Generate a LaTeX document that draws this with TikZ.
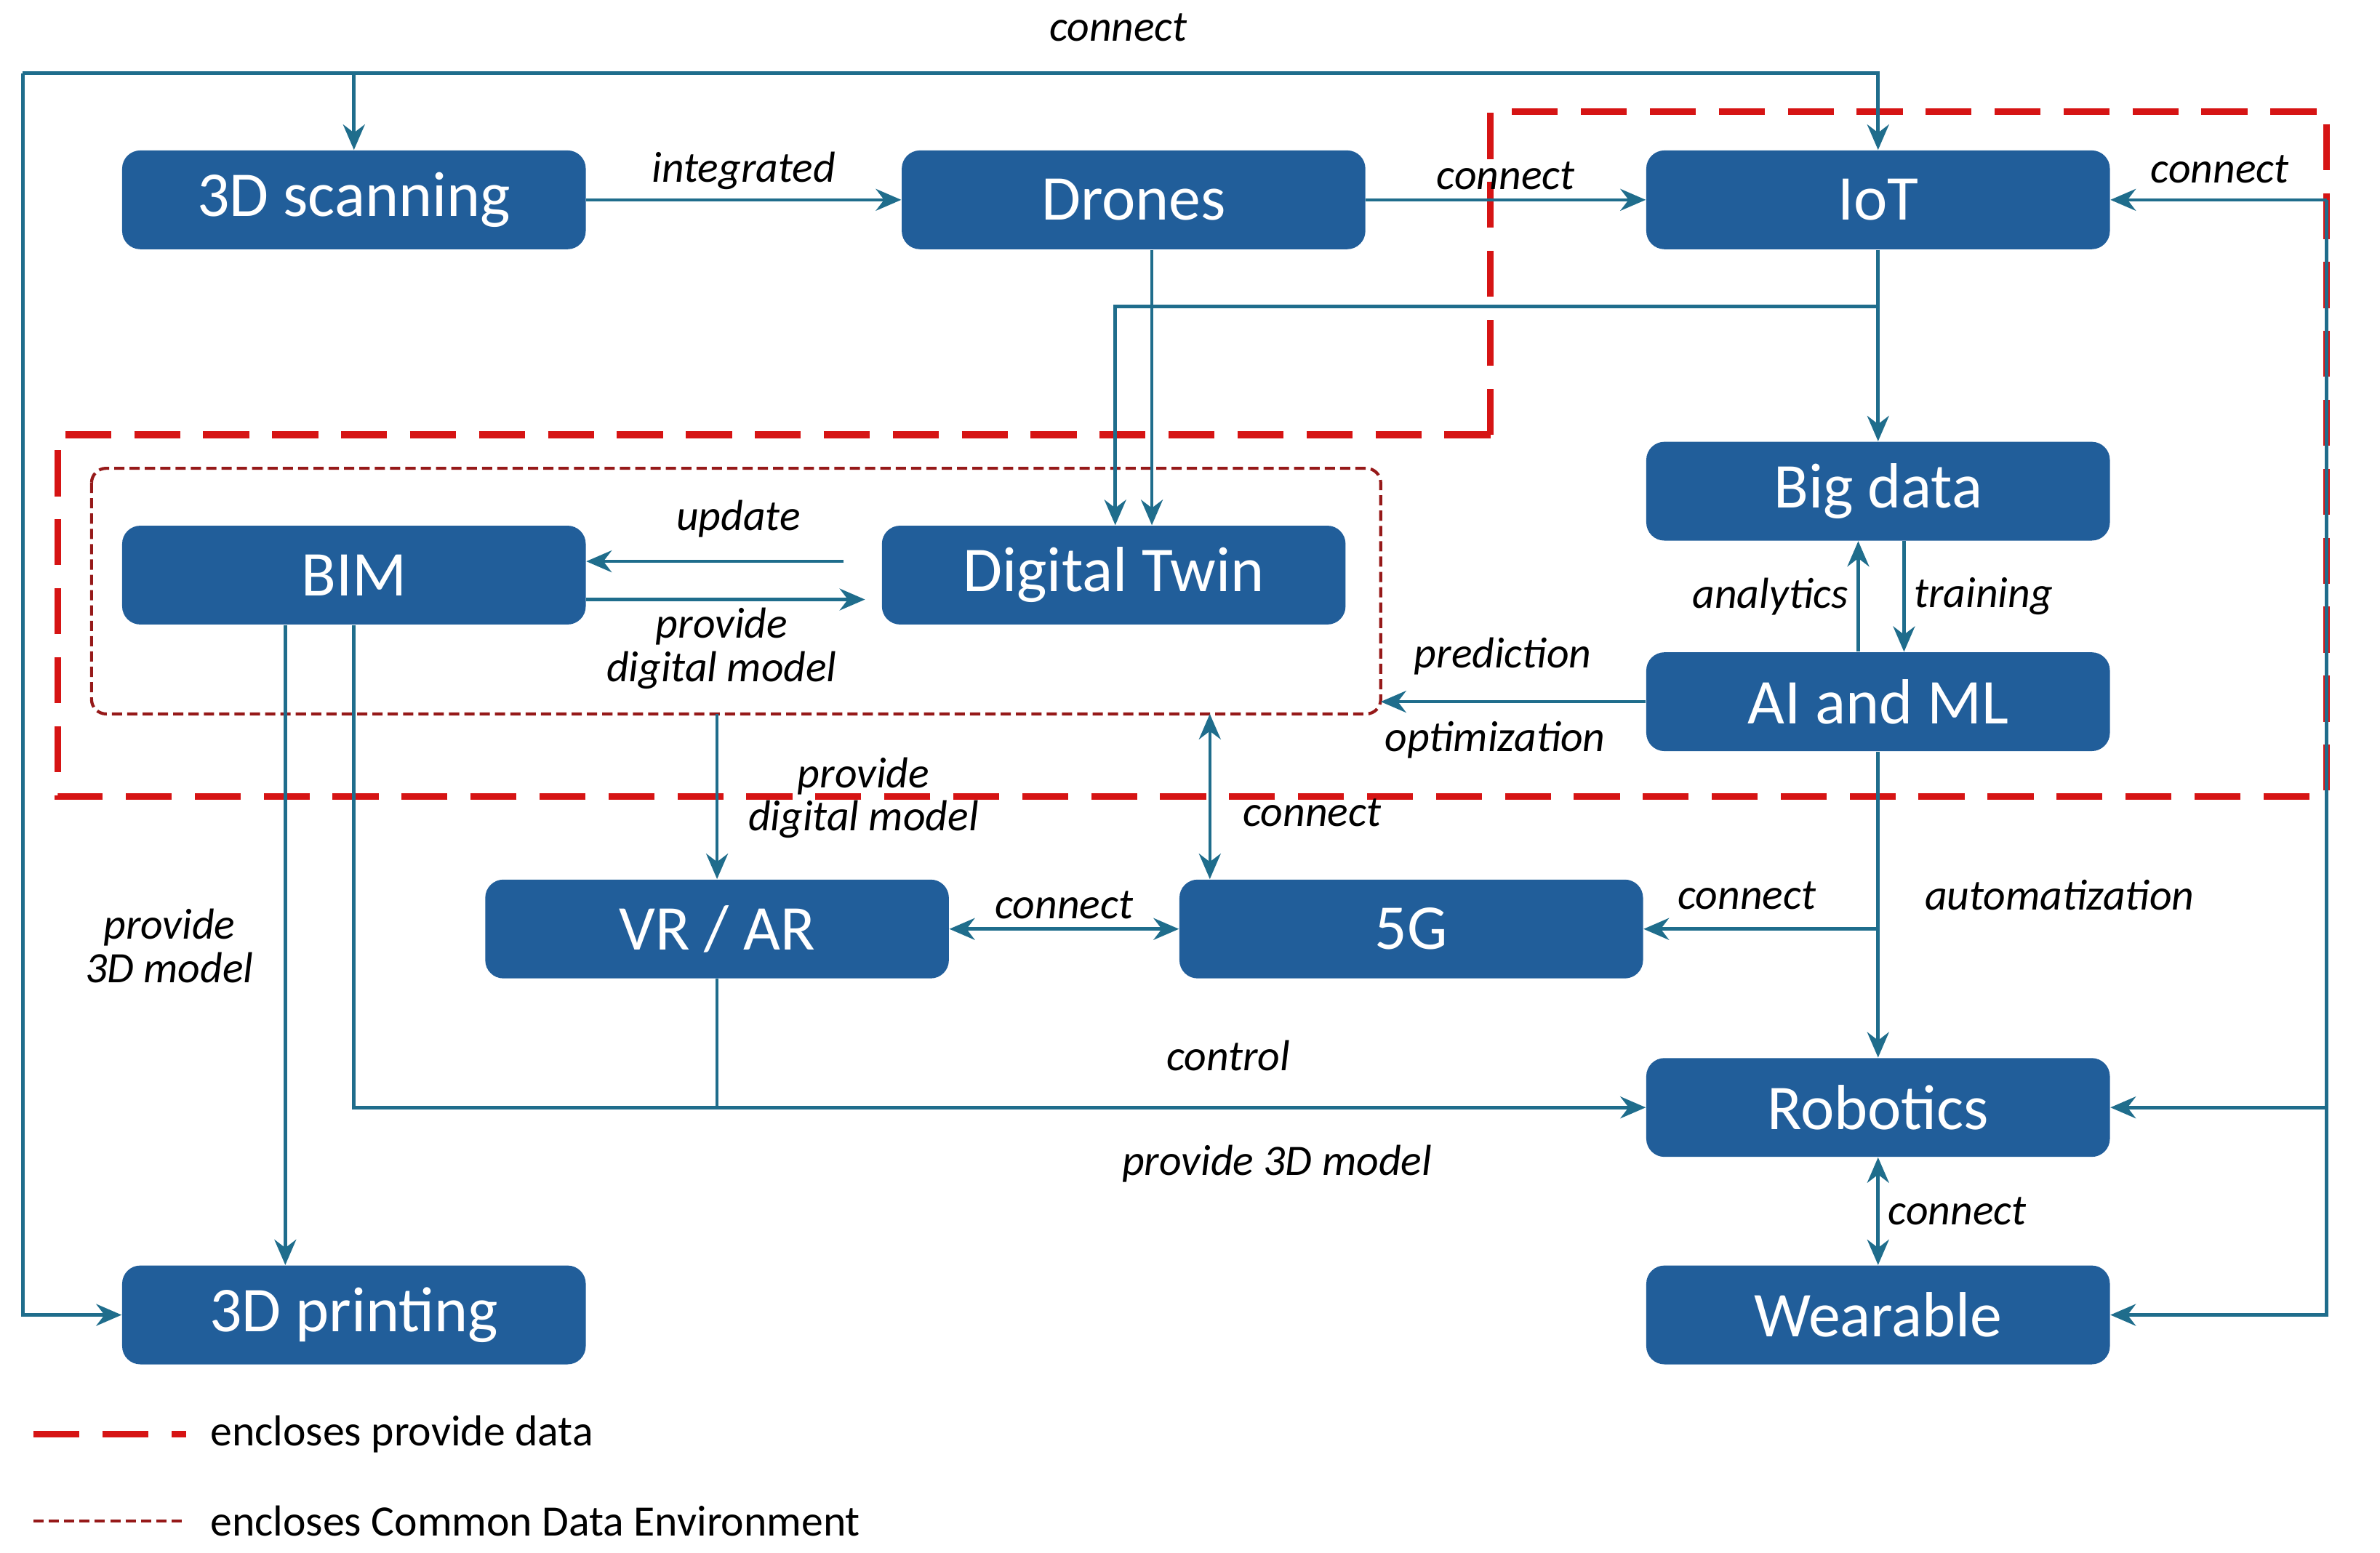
\documentclass[tikz,border=0pt]{standalone}
\usepackage{fontspec}
\setmainfont{Carlito}
\usetikzlibrary{arrows.meta, positioning}
\definecolor{boxFill}{RGB}{33, 94, 154}
\definecolor{lineColor}{RGB}{31, 109, 140}
\definecolor{dataRed}{RGB}{214, 20, 20}
\definecolor{cdeRed}{RGB}{150, 25, 25}
\tikzset{
    tech_node/.style={
        draw=none,
        fill=boxFill,
        text=white,
        rounded corners=0.25cm,
        minimum width=6.38cm,
        minimum height=1.36cm,
        font=\fontsize{25}{28}\selectfont
    },
    tech_edge/.style={
        -{Stealth[length=3.5mm,width=3mm]},
        line width=1.3pt,
        draw=lineColor
    },
    tech_both/.style={
        tech_edge,
        {Stealth[length=3.5mm,width=3mm]}-{Stealth[length=3.5mm,width=3mm]}
    },
    tech_line/.style={
        line width=1.3pt,
        draw=lineColor
    },
    edge_label/.style={
        font=\fontsize{17}{20}\selectfont\itshape,
        align=center
    },
    data_box/.style={
        draw=dataRed,
        line width=2.6pt,
        dash pattern=on 18pt off 9pt
    },
    cde_box/.style={
        draw=cdeRed,
        line width=1.2pt,
        dash pattern=on 4pt off 2pt
    }
}

\begin{document}
\begin{tikzpicture}[x=0.021cm, y=-0.021cm]
    \useasboundingbox (0,0) rectangle (1560,1018);

    % enclosures
    \draw[data_box] (977,285) -- (977,73) -- (1525,73) -- (1525,522) -- (38,522) -- (38,285) -- cycle;
    \draw[cde_box, rounded corners=0.2cm] (60,307) rectangle (905,468);
    \coordinate (cdeS) at (470,468);
    \coordinate (cdeE) at (905,460);
    \coordinate (cde5g) at (793,468);

    % technologies
    \node[tech_node] (scan) at (232,131) {3D scanning};
    \node[tech_node] (drones) at (743,131) {Drones};
    \node[tech_node] (iot) at (1231,131) {IoT};
    \node[tech_node] (bigdata) at (1231,322) {Big data};
    \node[tech_node] (bim) at (232,377) {BIM};
    \node[tech_node] (twin) at (730,377) {Digital Twin};
    \node[tech_node] (ai) at (1231,460) {AI and ML};
    \node[tech_node] (vrar) at (470,609) {VR / AR};
    \node[tech_node] (fiveg) at (925,609) {5G};
    \node[tech_node] (robot) at (1231,726) {Robotics};
    \node[tech_node] (print) at (232,862) {3D printing};
    \node[tech_node] (wear) at (1231,862) {Wearable};

    % outer connect loops
    \coordinate (topL) at (15,48);
    \coordinate (botL) at (15,862);
    \coordinate (topS) at (232,48);
    \coordinate (rightX) at (1525,726);
    \draw[tech_edge] (topS) -- (scan.north);
    \draw[tech_edge] (topL) -| (iot.north);
    \draw[tech_edge] (topL) -- (botL) -- (print.west);
    \node[edge_label] at (733,18) {connect};
    \draw[tech_edge] (1525,131) -- (iot.east);
    \draw[tech_edge] (1525,131) |- (wear.east);
    \draw[tech_edge] (rightX) -- (robot.east);
    \node[edge_label] at (1455,111) {connect};

    % top row
    \draw[tech_edge] (scan) -- node[edge_label, above] {integrated} (drones);
    \draw[tech_edge] (drones) -- node[edge_label, above] {connect} (iot);
    \draw[tech_edge] (drones.south -| 755,0) -- (twin.north -| 755,0);
    \draw[tech_edge] (iot) -- (bigdata);
    \draw[tech_edge] (1231,201) -| (twin.north -| 731,0);

    % analytics
    \draw[tech_edge] (ai.north -| 1218,0) -- node[edge_label, left] {analytics} (bigdata.south -| 1218,0);
    \draw[tech_edge] (bigdata.south -| 1248,0) -- node[edge_label, right] {training} (ai.north -| 1248,0);
    \draw[tech_edge] (ai.west) -- (cdeE);
    \node[edge_label] at (985,430) {prediction};
    \node[edge_label] at (980,485) {optimization};

    % common data environment
    \draw[tech_edge] (553,368) -- (bim.east |- 0,368);
    \node[edge_label] at (484,340) {update};
    \draw[tech_edge] (bim.east |- 0,393) -- (567,393);
    \node[edge_label] at (473,425) {provide\\[-3pt]digital model};
    \draw[tech_edge] (cdeS) -- (vrar.north);
    \node[edge_label] at (566,523) {provide\\[-3pt]digital model};
    \draw[tech_both] (cde5g) -- (fiveg.north -| cde5g);
    \node[edge_label] at (860,533) {connect};

    % lower part
    \draw[tech_both] (vrar) -- node[edge_label, above] {connect} (fiveg);
    \draw[tech_edge] (ai) -- (robot);
    \node[edge_label] at (1350,587) {automatization};
    \draw[tech_edge] (1231,609) -- (fiveg.east);
    \node[edge_label] at (1145,587) {connect};
    \draw[tech_edge] (bim.south -| 187,0) -- (print.north -| 187,0);
    \node[edge_label] at (111,620) {provide\\[-3pt]3D model};
    \draw[tech_edge] (bim.south -| 232,0) |- (robot.west);
    \draw[tech_line] (vrar.south) -- (470,726);
    \node[edge_label] at (805,692) {control};
    \node[edge_label] at (837,763) {provide 3D model};
    \draw[tech_both] (robot) -- node[edge_label, right] {connect} (wear);

    % legend
    \draw[data_box] (22,940) -- (122,940);
    \node[anchor=west, font=\fontsize{17}{20}\selectfont] at (132,940) {encloses provide data};
    \draw[cde_box] (22,997) -- (122,997);
    \node[anchor=west, font=\fontsize{17}{20}\selectfont] at (132,997) {encloses Common Data Environment};
\end{tikzpicture}
\end{document}
